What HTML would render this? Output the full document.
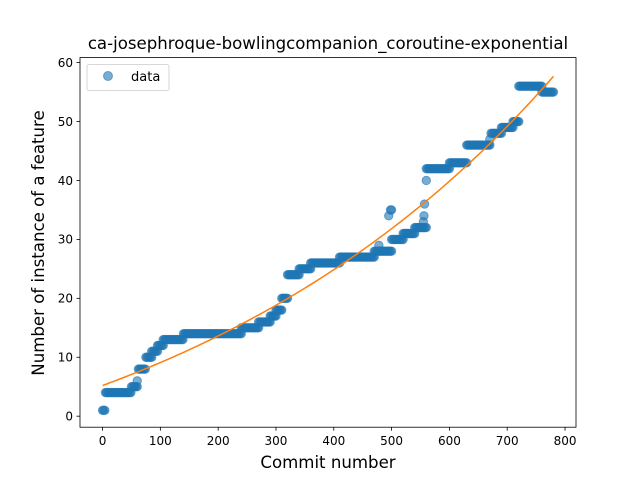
<!DOCTYPE html>
<html><head><meta charset="utf-8"><style>
body{margin:0;background:#fff;}
svg{display:block;font-family:"DejaVu Sans","Liberation Sans",sans-serif;}
</style></head><body>
<svg id="chart" width="640" height="480" viewBox="0 0 640 480">
<rect width="640" height="480" fill="#fff"/>
<text x="328" y="49" font-size="16.6" text-anchor="middle">ca-josephroque-bowlingcompanion_coroutine-exponential</text>
<g id="marks"></g>
<rect x="80" y="57.6" width="496" height="369.6" fill="none" stroke="#000" stroke-width="0.8"/>
<g id="xt"></g><g id="yt"></g>
<text x="328" y="468" font-size="16.6" text-anchor="middle">Commit number</text>
<text transform="translate(44,243) rotate(-90)" font-size="16.6" text-anchor="middle">Number of instance of a feature</text>
<g>
<rect x="87" y="64.6" width="82" height="26" rx="2" fill="#fff" fill-opacity="0.8" stroke="#ccc" stroke-width="0.8"/>
<circle cx="108" cy="76" r="4.5" fill="#1f77b4" fill-opacity="0.6" stroke="#1f77b4" stroke-opacity="0.6"/>
<text x="131" y="81" font-size="13">data</text>
</g>
</svg>
<script>
const segStart=[0,5,50,60,62,75,85,95,105,140,240,270,290,300,310,320,340,360,410,470,478,495,498,500,520,540,555,556,557,560,560,600,630,670,672,690,710,720,760];
const segEnd  =[5,50,60,60,75,85,95,105,140,240,270,290,300,310,320,340,360,410,470,500,478,495,500,520,540,560,555,556,557,560,600,630,670,670,690,710,720,760,780];
const segVal  =[1,4,5,6,8,10,11,12,13,14,15,16,17,18,20,24,25,26,27,28,29,34,35,30,31,32,33,34,36,40,42,43,46,47,48,49,50,56,55];
const fitA=[25], fitB=[0.00145], fitC=[-19.8];
const xTicks=[0,100,200,300,400,500,600,700,800];
const yTicks=[0,10,20,30,40,50,60];
const X0=-39,X1=819,Y0=-1.87,Y1=60.85;
const px=v=>80+(v-X0)/(X1-X0)*496;
const py=v=>427.2-(v-Y0)/(Y1-Y0)*369.6;
const NS="http://www.w3.org/2000/svg";
const marks=document.getElementById('marks');
for(let i=0;i<segVal.length;i++){
  for(let c=segStart[i];c<=segEnd[i];c+=2){
    const e=document.createElementNS(NS,'circle');
    
    
    e.setAttribute('cx',px(c));e.setAttribute('cy',py(segVal[i]));e.setAttribute('r',4.2);
    e.setAttribute('fill','#1f77b4');e.setAttribute('fill-opacity','0.6');
    e.setAttribute('stroke','#1f77b4');e.setAttribute('stroke-opacity','0.6');
    marks.appendChild(e);
  }
}
let d='';
for(let c=0;c<=780;c+=10){d+=(c?'L':'M')+px(c).toFixed(2)+','+py(fitA[0]*Math.exp(fitB[0]*c)+fitC[0]).toFixed(2);}
const fl=document.createElementNS(NS,'path');


fl.setAttribute('d',d);fl.setAttribute('fill','none');fl.setAttribute('stroke','#ff7f0e');fl.setAttribute('stroke-width','1.5');
marks.appendChild(fl);
const xt=document.getElementById('xt');
xTicks.forEach(t=>{
  const l=document.createElementNS(NS,'line');
  
  
  l.setAttribute('x1',px(t));l.setAttribute('x2',px(t));l.setAttribute('y1',427.2);l.setAttribute('y2',430.7);l.setAttribute('stroke','#000');l.setAttribute('stroke-width','0.8');
  xt.appendChild(l);
  const s=document.createElementNS(NS,'text');
  
  
  s.setAttribute('x',px(t));s.setAttribute('y',445);s.setAttribute('font-size','12');s.setAttribute('text-anchor','middle');
  s.textContent=t;xt.appendChild(s);
});
const yt=document.getElementById('yt');
yTicks.forEach(t=>{
  const l=document.createElementNS(NS,'line');
  
  
  l.setAttribute('x1',76.5);l.setAttribute('x2',80);l.setAttribute('y1',py(t));l.setAttribute('y2',py(t));l.setAttribute('stroke','#000');l.setAttribute('stroke-width','0.8');
  yt.appendChild(l);
  const s=document.createElementNS(NS,'text');
  
  
  s.setAttribute('x',73);s.setAttribute('y',py(t)+4.3);s.setAttribute('font-size','12');s.setAttribute('text-anchor','end');
  s.textContent=t;yt.appendChild(s);
});
</script>
</body></html>
